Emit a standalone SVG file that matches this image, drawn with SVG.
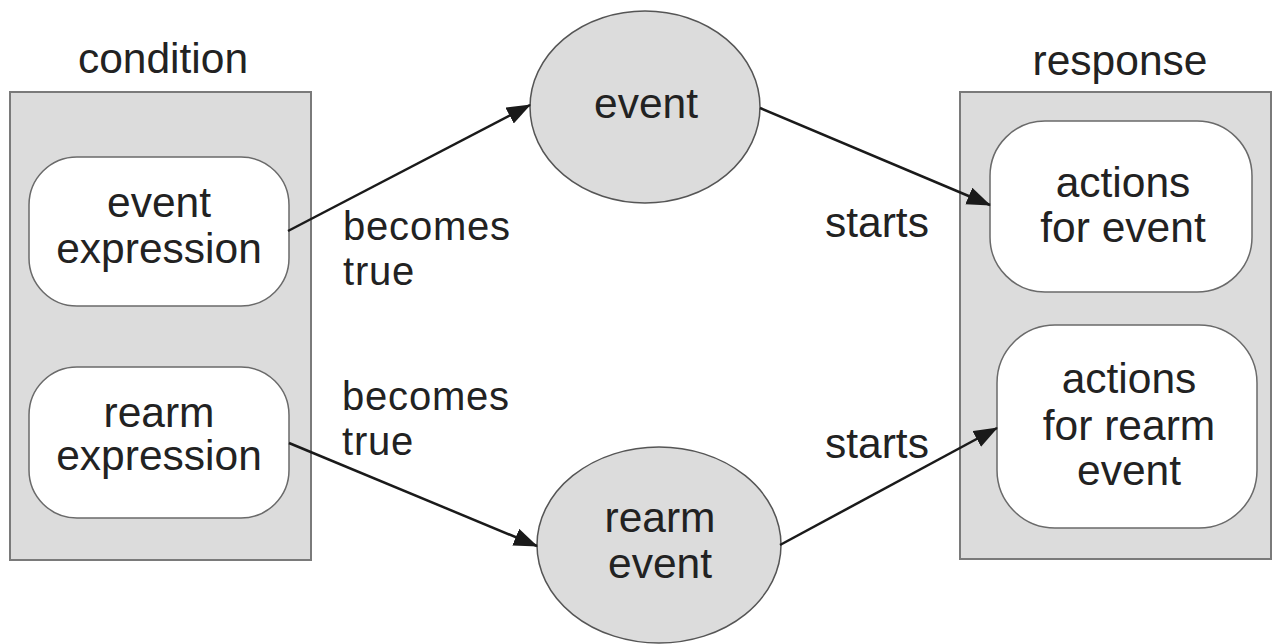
<svg xmlns="http://www.w3.org/2000/svg" width="1272" height="644" viewBox="0 0 1272 644">
  <style>
    text { font-family: "Liberation Sans", Arial, sans-serif; font-size: 42.5px; fill: #222; }
    .c { text-anchor: middle; }
    .lbl { font-size: 40px; letter-spacing: 0.8px; }
    .panel { fill: #dcdcdc; stroke: #7a7a7a; stroke-width: 2; }
    .pill { fill: #ffffff; stroke: #6a6a6a; stroke-width: 1.5; }
    .ell { fill: #dcdcdc; stroke: #555; stroke-width: 1.5; }
    .edge { fill: none; stroke: #1a1a1a; stroke-width: 2.5; marker-end: url(#arrow); }
  </style>
  <defs>
    <marker id="arrow" markerUnits="userSpaceOnUse" markerWidth="24" markerHeight="19" refX="23" refY="9" orient="auto">
      <path d="M0,0 L24,9 L0,18 Z" fill="#1a1a1a"/>
    </marker>
  </defs>
  <rect width="1272" height="644" fill="#ffffff"/>

  <g id="condition">
    <text class="c" x="163" y="73">condition</text>
    <rect class="panel" x="10" y="92" width="301" height="468"/>
  </g>
  <g id="event-expression">
    <rect class="pill" x="29" y="157" width="260" height="149" rx="48" ry="48"/>
    <text class="c" x="159" y="217">event<tspan x="159" y="263">expression</tspan></text>
  </g>
  <g id="rearm-expression">
    <rect class="pill" x="29" y="367" width="260" height="151" rx="48" ry="48"/>
    <text class="c" x="159" y="427">rearm<tspan x="159" y="470">expression</tspan></text>
  </g>

  <g id="event">
    <ellipse class="ell" cx="645" cy="107" rx="115" ry="96"/>
    <text class="c" x="646" y="118">event</text>
  </g>
  <g id="rearm-event">
    <ellipse class="ell" cx="659" cy="545" rx="122" ry="98"/>
    <text class="c" x="660" y="532">rearm<tspan x="660" y="578">event</tspan></text>
  </g>

  <g id="response">
    <text class="c" x="1120" y="75">response</text>
    <rect class="panel" x="960" y="92" width="311" height="467"/>
  </g>
  <g id="actions-for-event">
    <rect class="pill" x="990" y="121" width="262" height="171" rx="55" ry="55"/>
    <text class="c" x="1123" y="197">actions<tspan x="1123" y="242">for event</tspan></text>
  </g>
  <g id="actions-for-rearm-event">
    <rect class="pill" x="997" y="325" width="260" height="203" rx="58" ry="58"/>
    <text class="c" x="1129" y="393">actions<tspan x="1129" y="440">for rearm</tspan><tspan x="1129" y="485">event</tspan></text>
  </g>

  <g id="connectors">
    <line class="edge" x1="288" y1="231" x2="530" y2="105"/>
    <line class="edge" x1="760" y1="108" x2="990" y2="205"/>
    <line class="edge" x1="289" y1="443" x2="537" y2="546"/>
    <line class="edge" x1="780" y1="545" x2="997" y2="428"/>
    <text class="lbl" x="343" y="240">becomes<tspan x="343" y="285">true</tspan></text>
    <text class="lbl" x="342" y="410">becomes<tspan x="342" y="455">true</tspan></text>
    <text x="825" y="237">starts</text>
    <text x="825" y="458">starts</text>
  </g>
</svg>
